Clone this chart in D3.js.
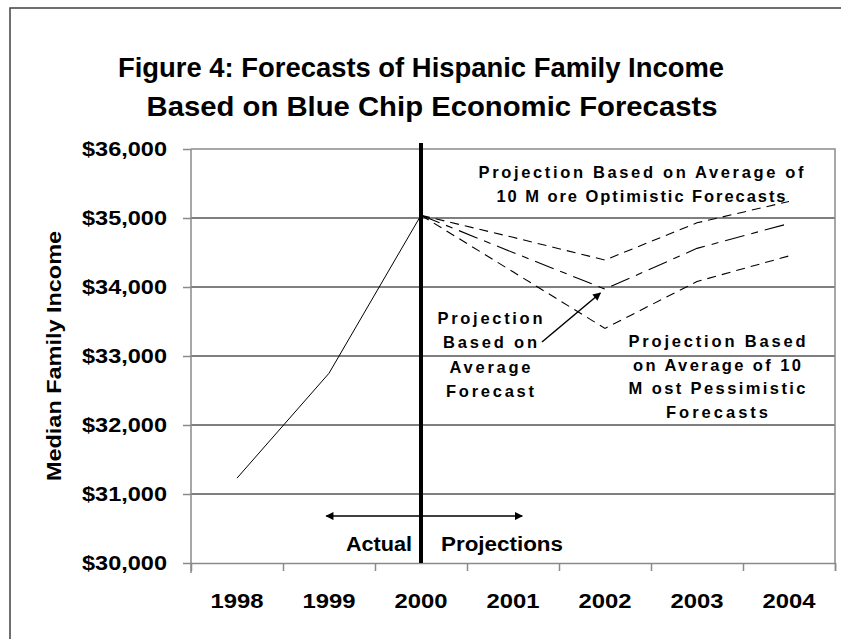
<!DOCTYPE html>
<html><head><meta charset="utf-8">
<script src="https://cdn.jsdelivr.net/npm/d3@7/dist/d3.min.js"></script>
<style>
html,body{margin:0;padding:0;background:#fff;}
svg{display:block;}
text{font-family:Arial,"Liberation Sans",sans-serif;font-weight:bold;fill:#000;}
</style></head>
<body>
<svg id="chart" width="841" height="639"></svg>
<script>
// ---------- data ----------
const years = [1998, 1999, 2000, 2001, 2002, 2003, 2004];
const yearLabels = ["1998", "1999", "2000", "2001", "2002", "2003", "2004"];
const actualYears = [1998, 1999, 2000];
const actualValues = [31230, 32750, 35040];
const projYears = [2000, 2001, 2002, 2003, 2004];
const optimisticValues = [35040, 34720, 34390, 34930, 35240];
const averageValues = [35040, 34500, 33970, 34560, 34920];
const pessimisticValues = [35040, 34220, 33400, 34080, 34450];
const yTickValues = [30000, 31000, 32000, 33000, 34000, 35000, 36000];
const yTickLabels = ["$30,000", "$31,000", "$32,000", "$33,000", "$34,000", "$35,000", "$36,000"];
const titleLines = ["Figure 4: Forecasts of Hispanic Family Income", "Based on Blue Chip Economic Forecasts"];
const yAxisTitle = "Median Family Income";
const labelOptimistic = ["Projection Based on Average of", "10 M ore Optimistic Forecasts"];
const labelAverage = ["Projection", "Based on", "Average", "Forecast"];
const labelPessimistic = ["Projection Based", "on Average of 10", "M ost Pessimistic", "Forecasts"];
const dividerYear = 2000;

// ---------- layout ----------
const svg = d3.select("#chart");
const L = 191, R = 835, T = 149, B = 563;
const x = d3.scaleLinear().domain([1997.5, 2004.5]).range([L, R]);
const y = d3.scaleLinear().domain([30000, 36000]).range([B, T]);

// outer frame
svg.append("rect").attr("x", 10).attr("y", 8).attr("width", 840).attr("height", 650)
  .attr("fill", "none").attr("stroke", "#404040").attr("stroke-width", 1.5);

function txt(g, s, px, py, o) {
  const t = g.append("text").attr("x", px).attr("y", py).text(s)
    .attr("font-size", o.size).attr("text-anchor", o.anchor || "middle");
  if (o.len) t.attr("textLength", o.len).attr("lengthAdjust", o.adj || "spacingAndGlyphs");
  if (o.rotate) t.attr("transform", `rotate(${o.rotate},${px},${py})`);
  return t;
}

// title
txt(svg, titleLines[0], 421, 77, {size: 27, len: 606});
txt(svg, titleLines[1], 432, 116, {size: 27, len: 571});

// gridlines
svg.append("g").selectAll("line").data(yTickValues.filter(v => v > 30000 && v < 36000)).join("line")
  .attr("x1", L).attr("x2", R).attr("y1", d => y(d)).attr("y2", d => y(d))
  .attr("stroke", "#000").attr("stroke-width", 1);

// plot border top/right (gray)
svg.append("path").attr("d", `M${L},${y(36000)}H${R}V${y(30000)}`)
  .attr("fill", "none").attr("stroke", "#8a8a8a").attr("stroke-width", 1.5);

// y axis
const yAxis = svg.append("g").attr("transform", `translate(${L},0)`)
  .call(d3.axisLeft(y).tickValues(yTickValues).tickSize(8).tickFormat(""));
yAxis.selectAll("path,line").attr("stroke", "#8a8a8a").attr("stroke-width", 1.5);
yAxis.select(".domain").attr("d", `M0,${y(36000)}V${y(30000) + 10}`);
yTickValues.forEach((v, i) => txt(svg, yTickLabels[i], 167, y(v) + 7, {size: 20, len: 85, anchor: "end"}));

// x axis
const boundaries = [1998.5, 1999.5, 2000.5, 2001.5, 2002.5, 2003.5, 2004.5];
const xAxis = svg.append("g").attr("transform", `translate(0,${B})`)
  .call(d3.axisBottom(x).tickValues(boundaries).tickSize(8).tickFormat(""));
xAxis.selectAll("path,line").attr("stroke", "#8a8a8a").attr("stroke-width", 1.5);
years.forEach((yr, i) => txt(svg, yearLabels[i], x(yr), 608, {size: 20, len: 53}));

// y axis title
txt(svg, yAxisTitle, 61, (T + B) / 2, {size: 21, len: 250, rotate: -90});

// divider line at 2000
svg.append("line").attr("x1", x(dividerYear)).attr("x2", x(dividerYear))
  .attr("y1", T - 6).attr("y2", B).attr("stroke", "#000").attr("stroke-width", 4);

// lines
const line = d3.line().x(d => x(d[0])).y(d => y(d[1]));
svg.append("path").datum(actualYears.map((d, i) => [d, actualValues[i]])).attr("d", line)
  .attr("fill", "none").attr("stroke", "#000").attr("stroke-width", 1);
const proj = [
  {vals: optimisticValues, dash: "9,6"},
  {vals: averageValues, dash: "20,7,7,7"},
  {vals: pessimisticValues, dash: "9,6"}
];
proj.forEach(p => svg.append("path").datum(projYears.map((d, i) => [d, p.vals[i]])).attr("d", line)
  .attr("fill", "none").attr("stroke", "#000").attr("stroke-width", 1.1).attr("stroke-dasharray", p.dash));

// arrow markers
const defs = svg.append("defs");
defs.append("marker").attr("id", "ah").attr("viewBox", "0 0 10 10").attr("refX", 9).attr("refY", 5)
  .attr("markerWidth", 10).attr("markerHeight", 8).attr("markerUnits", "userSpaceOnUse").attr("orient", "auto-start-reverse")
  .append("path").attr("d", "M0,0L10,5L0,10Z").attr("fill", "#000");

// actual/projections double arrow
svg.append("line").attr("x1", x(1998.97)).attr("x2", x(2001.1)).attr("y1", y(30680)).attr("y2", y(30680))
  .attr("stroke", "#000").attr("stroke-width", 1.5)
  .attr("marker-start", "url(#ah)").attr("marker-end", "url(#ah)");
txt(svg, "Actual", 412, 551, {size: 20, len: 66, anchor: "end"});
txt(svg, "Projections", 441, 551, {size: 20, len: 122, anchor: "start"});

// pointer arrow to average forecast
svg.append("line").attr("x1", x(2001.315)).attr("y1", y(33203)).attr("x2", x(2001.95)).attr("y2", y(33913))
  .attr("stroke", "#000").attr("stroke-width", 1.5).attr("marker-end", "url(#ah)");

// annotation labels
const optW = [325, 289];
labelOptimistic.forEach((s, i) => txt(svg, s, 641, 178 + i * 24, {size: 16.5, len: optW[i], adj: "spacing"}));
const avgW = [105, 94, 81, 88];
labelAverage.forEach((s, i) => txt(svg, s, 490, 324 + i * 24.3, {size: 16.5, len: avgW[i], adj: "spacing"}));
const pesW = [177, 168, 177, 102];
labelPessimistic.forEach((s, i) => txt(svg, s, 717, 347 + i * 23.7, {size: 16.5, len: pesW[i], adj: "spacing"}));
</script>
</body></html>
